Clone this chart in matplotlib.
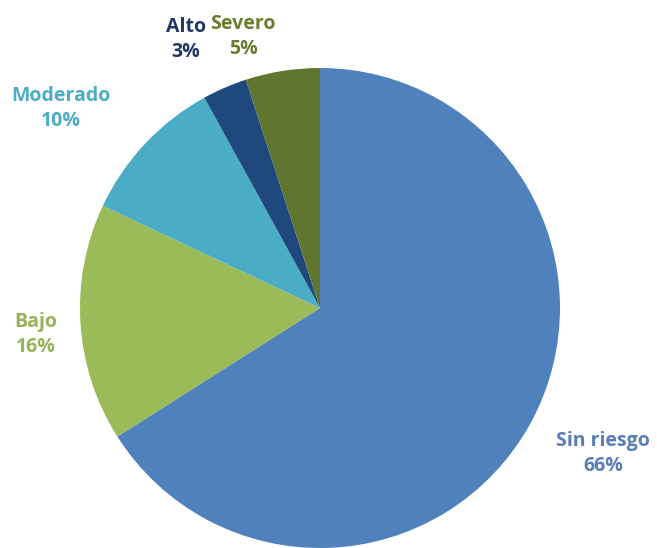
import matplotlib.pyplot as plt

# Risk categories and their shares (%)
labels = ['Sin riesgo', 'Bajo', 'Moderado', 'Alto', 'Severo']
values = [66, 16, 10, 3, 5]
colors = ['#4F81BD', '#9BBB59', '#4BACC6', '#1F497D', '#5F7530']
label_colors = ['#5A7DB8', '#9AB25A', '#4BACC6', '#1F3864', '#6A7D2C']
# label positions in pie-radius units
label_pos = [(1.18, -0.605), (-1.185, -0.11), (-1.08, 0.83), (-0.56, 1.12), (-0.32, 1.13)]

fig = plt.figure(figsize=(6.57, 5.48), dpi=100)
ax = fig.add_axes([0, 0, 1, 1])

ax.pie(values, colors=colors, startangle=90, counterclock=False,
       radius=1, center=(0, 0), wedgeprops=dict(linewidth=0))

for lab, val, col, (x, y) in zip(labels, values, label_colors, label_pos):
    ax.text(x, y, f'{lab}\n{val}%', color=col, ha='center', va='center',
            fontsize=14, fontweight='bold', family='Open Sans', linespacing=1.35)

ax.set_xlim(-320 / 240, 337 / 240)
ax.set_ylim(-1.0, 308 / 240)
ax.set_aspect('auto')
ax.axis('off')

fig.savefig('out.png', dpi=100)
